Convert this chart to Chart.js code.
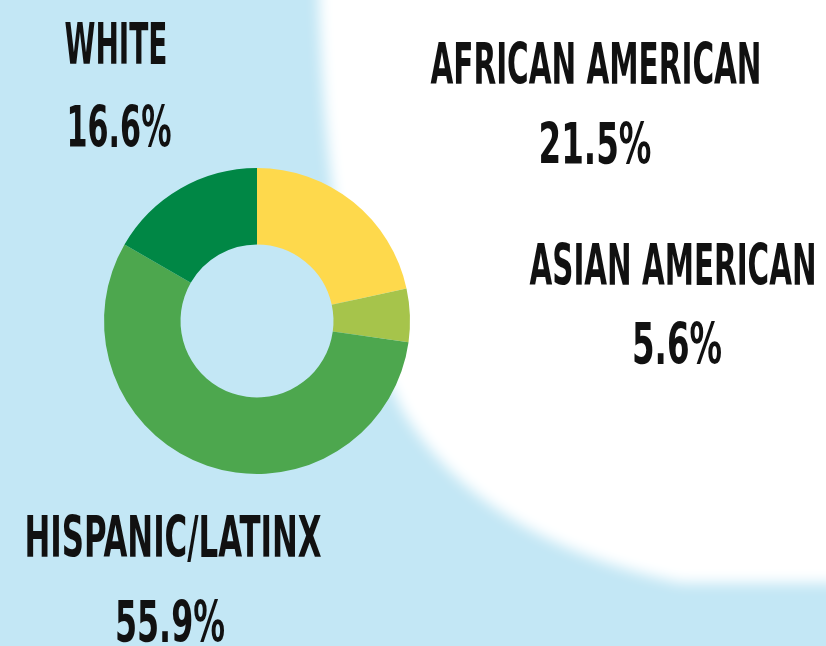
<!doctype html>
<html lang="en">
<head>
  <meta charset="UTF-8">
  <title>Student demographics</title>
  <script src="https://cdn.jsdelivr.net/npm/chart.js@4.4.0/dist/chart.umd.min.js"></script>
  <style>
      html, body {
          margin: 0;
          padding: 0;
          background: #c3e7f5;
      }
      canvas {
          display: block;
      }
  </style>
</head>
<body>

<canvas id="myChart" width="826" height="646"></canvas>

<script>
  // data
  const groups = ['AFRICAN AMERICAN', 'ASIAN AMERICAN', 'HISPANIC/LATINX', 'WHITE']
  const shares = [21.5, 5.6, 55.9, 16.6]
  const colors = ['#fed94c', '#a6c44b', '#4da74e', '#008745']

  // where each label sits: centre x, baselines, target widths
  const labelPos = [
    { x: 596, y: 84, w: 331, vx: 595, vy: 164, vw: 113 },
    { x: 673, y: 285, w: 287, vx: 677, vy: 364, vw: 90 },
    { x: 173, y: 557, w: 297, vx: 170, vy: 642, vw: 110 },
    { x: 116, y: 64, w: 103, vx: 119, vy: 147, vw: 105 }
  ]

  const backdrop = {
    id: 'backdrop',
    beforeDraw(chart) {
      const ctx = chart.ctx
      ctx.save()
      ctx.fillStyle = '#c3e7f5'
      ctx.fillRect(0, 0, chart.width, chart.height)
      ctx.filter = 'blur(7px)'
      ctx.fillStyle = '#ffffff'
      ctx.beginPath()
      ctx.moveTo(318, -30)
      ctx.lineTo(860, -30)
      ctx.lineTo(860, 583)
      ctx.lineTo(680, 583)
      ctx.quadraticCurveTo(480, 540, 402, 410)
      ctx.lineTo(350, 300)
      ctx.quadraticCurveTo(322, 160, 318, -30)
      ctx.closePath()
      ctx.fill()
      ctx.restore()
    }
  }

  function squeezeText(ctx, text, cx, baseline, width) {
    const natural = ctx.measureText(text).width
    const sx = width / natural
    ctx.save()
    ctx.translate(cx, baseline)
    ctx.scale(sx, 1)
    ctx.fillText(text, 0, 0)
    ctx.restore()
  }

  const sliceLabels = {
    id: 'sliceLabels',
    afterDraw(chart) {
      const ctx = chart.ctx
      ctx.save()
      ctx.fillStyle = '#111111'
      ctx.font = 'bold 57px "Liberation Sans Narrow", "DejaVu Sans Condensed", "Liberation Sans", sans-serif'
      ctx.textAlign = 'center'
      ctx.textBaseline = 'alphabetic'
      chart.data.labels.forEach((name, i) => {
        const p = labelPos[i]
        const val = chart.data.datasets[0].data[i]
        squeezeText(ctx, name, p.x, p.y, p.w)
        squeezeText(ctx, val.toFixed(1) + '%', p.vx, p.vy, p.vw)
      })
      ctx.restore()
    }
  }

  const chartDom = document.querySelector('#myChart')

  const chart = new Chart(chartDom, {
    type: 'doughnut',
    data: {
      labels: groups,
      datasets: [
        {
          data: shares,
          backgroundColor: colors,
          borderWidth: 0
        }
      ]
    },
    options: {
      responsive: false,
      animation: false,
      cutout: '50%',
      layout: {
        padding: { left: 104, right: 416, top: 168, bottom: 172 }
      },
      plugins: {
        legend: { display: false },
        tooltip: { enabled: false }
      }
    },
    plugins: [backdrop, sliceLabels]
  })
</script>

</body>
</html>
